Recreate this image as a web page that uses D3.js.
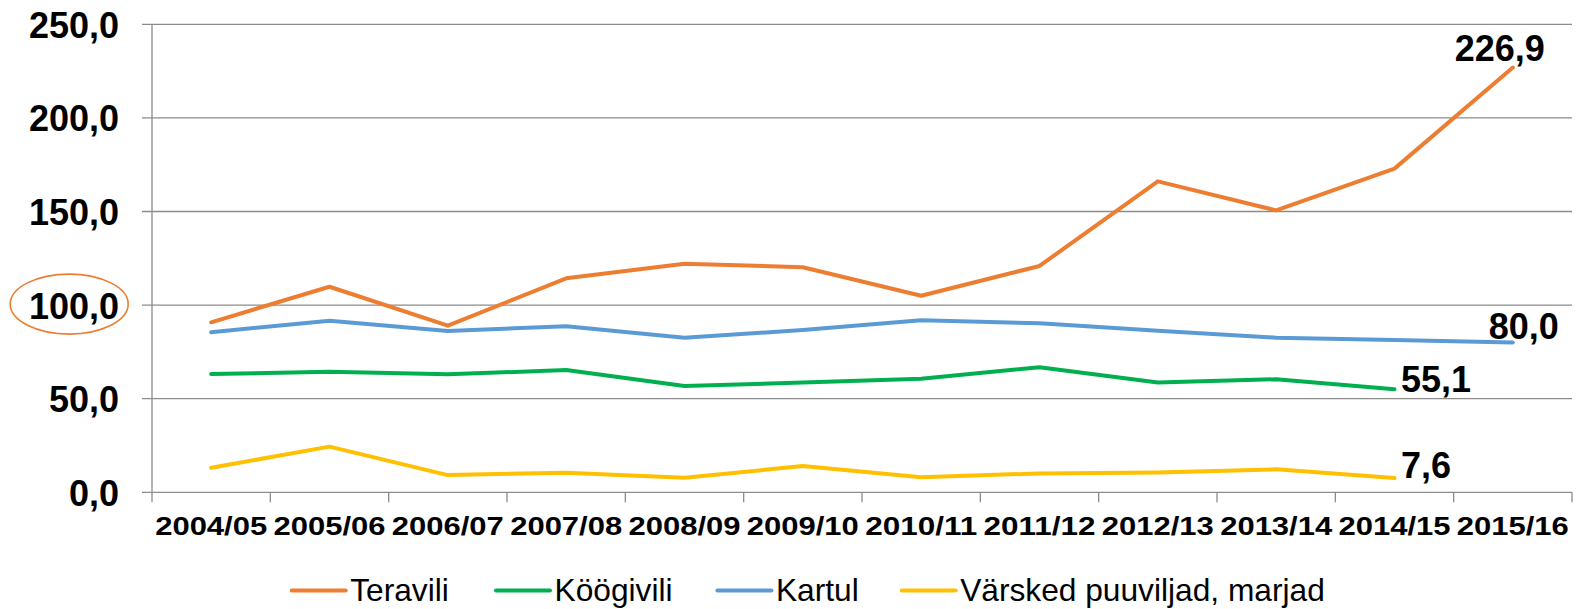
<!DOCTYPE html>
<html>
<head>
<meta charset="utf-8">
<script src="https://cdn.jsdelivr.net/npm/d3@7"></script>
<style>
  html, body { margin: 0; padding: 0; background: #fff; }
  svg { display: block; font-family: "Liberation Sans", Arial, sans-serif; }
</style>
</head>
<body>
<svg id="chart" width="1578" height="609"></svg>
<script>
// Seasons on the category axis
const categories = ["2004/05", "2005/06", "2006/07", "2007/08", "2008/09", "2009/10",
                    "2010/11", "2011/12", "2012/13", "2013/14", "2014/15", "2015/16"];

// Series values (null = no value for that season)
const teravili  = [90.8, 109.8, 89.0, 114.3, 122.1, 120.2, 105.0, 120.9, 166.1, 150.6, 172.9, 226.9];
const koogivili = [63.2, 64.4, 63.0, 65.3, 56.8, 58.6, 60.7, 66.8, 58.6, 60.4, 55.1, null];
const kartul    = [85.5, 91.7, 86.2, 88.7, 82.6, 86.7, 91.9, 90.3, 86.3, 82.6, 81.4, 80.0];
const varsked   = [13.1, 24.4, 9.2, 10.5, 7.8, 14.0, 8.0, 10.1, 10.6, 12.3, 7.6, null];

const seriesNames = ["Teravili", "Köögivili", "Kartul", "Värsked puuviljad, marjad"];
const yTicks = [0, 50, 100, 150, 200, 250];

const series = [
  { name: seriesNames[0], values: teravili,  color: "#ED7D31" },
  { name: seriesNames[1], values: koogivili, color: "#00B050" },
  { name: seriesNames[2], values: kartul,    color: "#5B9BD5" },
  { name: seriesNames[3], values: varsked,   color: "#FFC000" }
];

const svg = d3.select("#chart");
const plotLeft = 152, plotRight = 1572, plotTop = 24.3, plotBottom = 492.3;

const x = d3.scaleBand().domain(categories).range([plotLeft, plotRight]);
const y = d3.scaleLinear().domain([0, 250]).range([plotBottom, plotTop]);
const fmt = v => d3.format(".1f")(v).replace(".", ",");
const gridColor = "#8c8c8c";

// Horizontal gridlines (extend slightly left of the axis as tick marks)
svg.append("g").selectAll("line").data(yTicks).join("line")
  .attr("x1", plotLeft - 10).attr("x2", plotRight)
  .attr("y1", d => y(d)).attr("y2", d => y(d))
  .attr("stroke", gridColor).attr("stroke-width", 1.3);

// Vertical axis line
svg.append("line")
  .attr("x1", plotLeft).attr("x2", plotLeft).attr("y1", plotTop).attr("y2", plotBottom)
  .attr("stroke", gridColor).attr("stroke-width", 1.3);

// Category boundary tick marks below the axis
const boundaries = categories.map(c => x(c)).concat([plotRight]);
svg.append("g").selectAll("line").data(boundaries).join("line")
  .attr("x1", d => d).attr("x2", d => d)
  .attr("y1", plotBottom).attr("y2", plotBottom + 10)
  .attr("stroke", gridColor).attr("stroke-width", 1.3);

// Y axis labels
const yAxis = d3.axisLeft(y).tickValues(yTicks).tickFormat(fmt).tickSize(0).tickPadding(0);
const gy = svg.append("g").attr("transform", `translate(${plotLeft - 33},0)`).call(yAxis);
gy.select(".domain").remove();
gy.selectAll("text")
  .attr("fill", "#000")
  .style("font-size", "36px")
  .style("font-weight", "bold")
  .style("font-family", "'Liberation Sans', Arial, sans-serif")
  .attr("dy", "0.36em");

// X axis labels
const xAxis = d3.axisBottom(x).tickSize(0).tickPadding(0);
const gx = svg.append("g").attr("transform", `translate(0,${plotBottom})`).call(xAxis);
gx.select(".domain").remove();
gx.selectAll("text")
  .attr("fill", "#000")
  .attr("y", 43)
  .attr("dy", 0)
  .attr("textLength", 112)
  .attr("lengthAdjust", "spacingAndGlyphs")
  .style("font-size", "26px")
  .style("font-weight", "bold")
  .style("font-family", "'Liberation Sans', Arial, sans-serif");

// Series lines
const line = d3.line()
  .defined(d => d.v !== null)
  .x(d => x(d.c) + x.bandwidth() / 2)
  .y(d => y(d.v));

series.forEach(s => {
  const pts = categories.map((c, i) => ({ c, v: s.values[i] }));
  svg.append("path")
    .datum(pts)
    .attr("d", line)
    .attr("fill", "none")
    .attr("stroke", s.color)
    .attr("stroke-width", 4)
    .attr("stroke-linejoin", "round")
    .attr("stroke-linecap", "round");
});

// Value labels at the last point of each series
function lastPoint(values) {
  let i = values.length - 1;
  while (values[i] === null) i--;
  return { i, v: values[i], cx: x(categories[i]) + x.bandwidth() / 2, cy: y(values[i]) };
}
const labelOffsets = [
  { dx: -13, dy: -7,   anchor: "middle" },  // Teravili
  { dx: 6.5, dy: 3,    anchor: "start" },   // Köögivili
  { dx: 11,  dy: -3.5, anchor: "middle" },  // Kartul
  { dx: 6.5, dy: -0.5, anchor: "start" }    // Värsked puuviljad, marjad
];
series.forEach((s, k) => {
  const p = lastPoint(s.values);
  const o = labelOffsets[k];
  svg.append("text")
    .attr("x", p.cx + o.dx)
    .attr("y", p.cy + o.dy)
    .attr("text-anchor", o.anchor)
    .attr("fill", "#000")
    .style("font-size", "36px")
    .style("font-weight", "bold")
    .text(fmt(p.v));
});

// Highlight ring around the 100,0 tick label
svg.append("ellipse")
  .attr("cx", 69.2).attr("cy", y(100) - 1)
  .attr("rx", 59).attr("ry", 30)
  .attr("fill", "none")
  .attr("stroke", "#ED7D31")
  .attr("stroke-width", 1.6);

// Legend
const legendX = [291.7, 496, 717.4, 901.7];
const legend = svg.append("g");
series.forEach((s, k) => {
  const g = legend.append("g").attr("transform", `translate(${legendX[k]},0)`);
  g.append("line")
    .attr("x1", 0).attr("x2", 54).attr("y1", 590.5).attr("y2", 590.5)
    .attr("stroke", s.color).attr("stroke-width", 4).attr("stroke-linecap", "round");
  g.append("text")
    .attr("x", 58.5).attr("y", 601)
    .attr("fill", "#000")
    .style("font-size", "31.7px")
    .text(s.name);
});
</script>
</body>
</html>
